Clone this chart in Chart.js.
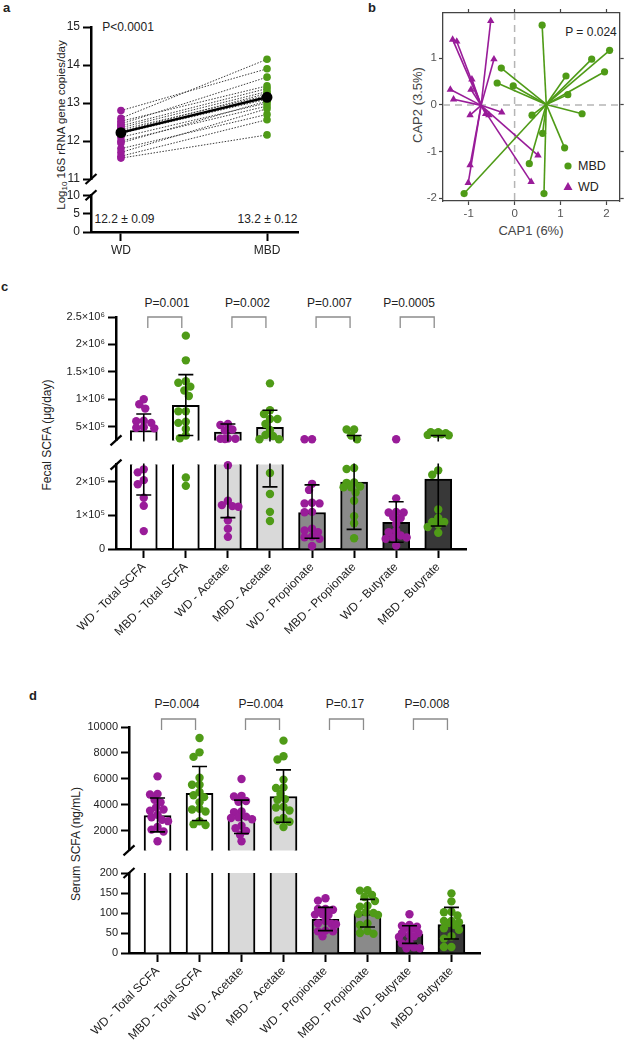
<!DOCTYPE html>
<html>
<head>
<meta charset="utf-8">
<script src="https://cdn.jsdelivr.net/npm/chart.js"></script>
<style>
  body { margin: 0; background: #fff; font-family: Arial, "Liberation Sans", Helvetica, sans-serif; color: #222; }
  #page { position: relative; width: 624px; height: 1049px; overflow: hidden; }
  .cv { position: absolute; }
  .t { position: absolute; white-space: nowrap; line-height: 1; font-size: 12px; transform: translate(-50%, -50%); }
  .l { transform: translate(0, -50%); }
  .rot { transform: translate(-50%, -50%) rotate(-90deg); }
  .pl { position: absolute; font-weight: bold; font-size: 13px; line-height: 1; }
  sub { font-size: 8px; vertical-align: -2px; }
</style>
</head>
<body>
<div id="page">
  <div class="pl" style="left:3px;top:1px">a</div>
  <div class="pl" style="left:368px;top:1px">b</div>
  <div class="pl" style="left:1px;top:280px">c</div>
  <div class="pl" style="left:29px;top:689px">d</div>

  <div class="t" style="left:128px;top:27px">P&lt;0.0001</div>
  <div class="t" style="left:124.5px;top:219px">12.2 ± 0.09</div>
  <div class="t" style="left:267.5px;top:219px">13.2 ± 0.12</div>
  <div class="t rot" style="left:62px;top:125px;font-size:11.5px">Log<sub>10</sub> 16S rRNA gene copies/day</div>

  <div class="t" style="left:591px;top:32px">P = 0.024</div>
  <div class="t l" style="left:578px;top:166px;font-size:12.5px">MBD</div>
  <div class="t l" style="left:578px;top:187px;font-size:12.5px">WD</div>
  <div class="t" style="left:531px;top:230px;font-size:13px;color:#444">CAP1 (6%)</div>
  <div class="t rot" style="left:417px;top:105px;font-size:13px;color:#444">CAP2 (3.5%)</div>

  <div class="t rot" style="left:47px;top:435px">Fecal SCFA (μg/day)</div>
  <div class="t" style="left:167px;top:303px">P=0.001</div>
  <div class="t" style="left:247.5px;top:303px">P=0.002</div>
  <div class="t" style="left:329.5px;top:303px">P=0.007</div>
  <div class="t" style="left:409px;top:303px">P=0.0005</div>

  <div class="t rot" style="left:76px;top:844px">Serum SCFA (ng/mL)</div>
  <div class="t" style="left:177px;top:704px">P=0.004</div>
  <div class="t" style="left:261px;top:704px">P=0.004</div>
  <div class="t" style="left:345px;top:704px">P=0.17</div>
  <div class="t" style="left:427px;top:704px">P=0.008</div>
</div>

<script>
  // ---- panel a: paired log10 16S copies ----
  const dietGroups = ['WD', 'MBD'];
  const wdLog16S = [12.8, 12.6, 12.52, 12.45, 12.4, 12.35, 12.3, 12.25, 12.2, 12.1, 12.0, 11.95, 11.8, 11.7, 11.6, 11.55];
  const mbdLog16S = [13.9, 14.15, 13.45, 13.68, 13.38, 13.3, 13.2, 13.25, 13.1, 13.0, 12.92, 13.05, 12.7, 12.85, 12.56, 12.16];
  const log16SMeans = [12.22, 13.15];
  const aUpperTicks = [11, 12, 13, 14, 15];
  const aLowerTicks = [0, 5, 10];

  // ---- panel b: CAP ordination ----
  const mbdCap1 = [0.6, 2.07, 1.68, 1.96, -0.29, -0.38, -0.03, 1.12, 1.16, 1.47, 0.38, 0.61, 1.09, 0.32, 0.64, -1.1];
  const mbdCap2 = [1.71, 1.17, 0.98, 0.71, 0.79, 0.47, 0.41, 0.62, 0.22, -0.19, -0.22, -0.61, -0.92, -1.26, -1.9, -1.9];
  const wdCap1 = [-0.52, -1.35, -1.26, -0.45, -0.93, -1.4, -1.33, -0.95, -0.97, -0.63, -0.28, -0.56, 0.51, 0.36, -0.97, -1.01];
  const wdCap2 = [1.8, 1.4, 1.36, 0.98, 0.55, 0.33, 0.12, 0.33, -0.22, -0.19, -0.16, -0.22, -1.08, -1.65, -1.29, -1.67];
  const mbdCentroid = [0.69, 0.01];
  const wdCentroid = [-0.73, -0.01];
  const capTicksX = [-1, 0, 1, 2];
  const capTicksY = [-2, -1, 0, 1];

  // ---- panels c/d: SCFA ----
  const scfaLabels = ['WD - Total SCFA', 'MBD - Total SCFA', 'WD - Acetate', 'MBD - Acetate',
                      'WD - Propionate', 'MBD - Propionate', 'WD - Butyrate', 'MBD - Butyrate'];

  const fecalMean = [4.3e5, 8.9e5, 4.0e5, 4.9e5, 1.08e5, 1.98e5, 0.79e5, 2.07e5];
  const fecalErrLow = [1.6e5, 3.4e5, 0.93e5, 1.84e5, 0.32e5, 0.58e5, 0.2e5, 0.68e5];
  const fecalErrHigh = [7.3e5, 1.45e6, 5.5e5, 8.0e5, 1.9e5, 3.4e5, 1.4e5, 3.4e5];
  const fecalWdTotal = [1.0e6, 9.1e5, 8.3e5, 6.1e5, 6.0e5, 5.7e5, 4.9e5, 4.8e5, 4.7e5, 2.36e5, 2.27e5, 2.04e5, 1.92e5, 1.52e5, 1.28e5, 0.53e5];
  const fecalMbdTotal = [2.16e6, 1.71e6, 1.33e6, 1.3e6, 1.23e6, 1.16e6, 1.06e6, 7.8e5, 7.8e5, 5.9e5, 5.7e5, 4.6e5, 3.4e5, 2.9e5, 2.12e5, 1.87e5];
  const fecalWdAcetate = [5.5e5, 5.3e5, 4.5e5, 4.3e5, 2.85e5, 2.8e5, 2.8e5, 2.75e5, 2.48e5, 1.43e5, 1.3e5, 1.25e5, 1.27e5, 0.85e5, 0.6e5, 0.36e5];
  const fecalMbdAcetate = [1.29e6, 8.0e5, 7.3e5, 6.4e5, 6.4e5, 5.5e5, 4.4e5, 3.5e5, 3.3e5, 2.7e5, 2.7e5, 2.25e5, 1.63e5, 1.1e5, 0.83e5];
  const fecalWdProp = [2.7e5, 2.7e5, 1.93e5, 1.75e5, 1.37e5, 1.35e5, 1.35e5, 1.09e5, 1.1e5, 0.6e5, 0.55e5, 0.5e5, 0.37e5, 0.35e5, 0.3e5, 0.09e5];
  const fecalMbdProp = [4.5e5, 4.5e5, 3.4e5, 2.7e5, 2.4e5, 2.37e5, 1.97e5, 1.96e5, 1.85e5, 1.83e5, 1.83e5, 1.67e5, 1.43e5, 0.97e5, 0.76e5, 0.32e5];
  const fecalWdBut = [2.7e5, 1.5e5, 1.08e5, 1.08e5, 1.1e5, 0.92e5, 0.95e5, 0.75e5, 0.54e5, 0.5e5, 0.4e5, 0.34e5, 0.34e5, 0.3e5, 0.1e5];
  const fecalMbdBut = [4.0e5, 3.8e5, 4.0e5, 3.7e5, 3.6e5, 3.5e5, 3.45e5, 2.33e5, 2.2e5, 1.17e5, 0.92e5, 0.8e5, 0.8e5, 0.72e5, 0.65e5, 0.48e5];
  const fecalUpperTicks = [5e5, 1e6, 1.5e6, 2e6, 2.5e6];
  const fecalUpperLabels = ['5×10⁵', '1×10⁶', '1.5×10⁶', '2×10⁶', '2.5×10⁶'];
  const fecalLowerTicks = [0, 1e5, 2e5];
  const fecalLowerLabels = ['0', '1×10⁵', '2×10⁵'];

  const serumMean = [3185, 4890, 3040, 4650, 84, 98, 47, 71];
  const serumErrLow = [1930, 2800, 1800, 2670, 56, 65, 24, 35];
  const serumErrHigh = [4530, 6960, 4370, 6700, 114, 134, 68, 114];
  const serumWdTotal = [6200, 4850, 4800, 4400, 4200, 3800, 3650, 3550, 3250, 3050, 2850, 2750, 2300, 2100, 1950, 1200];
  const serumMbdTotal = [9150, 8050, 7700, 6100, 5550, 5550, 5000, 4750, 4600, 4200, 3700, 3650, 3500, 2740, 2520, 2450];
  const serumWdAcetate = [6000, 4700, 4650, 4300, 4250, 3500, 3450, 3100, 3050, 3000, 2900, 2400, 2200, 2000, 1700, 1200];
  const serumMbdAcetate = [8950, 7750, 7500, 5950, 5350, 5300, 4870, 4450, 4400, 3850, 3800, 3570, 3000, 2800, 2700, 2300];
  const serumWdProp = [137, 131, 110, 110, 108, 97, 96, 95, 80, 74, 73, 72, 56, 54, 54, 42];
  const serumMbdProp = [157, 156, 145, 140, 130, 118, 116, 102, 100, 98, 95, 74, 70, 55, 50, 48];
  const serumWdBut = [97, 70, 68, 66, 63, 62, 50, 50, 45, 42, 40, 26, 24, 14, 12, 12];
  const serumMbdBut = [149, 129, 103, 102, 94, 80, 80, 77, 75, 70, 62, 58, 42, 36, 15, 15];
  const serumUpperTicks = [2000, 4000, 6000, 8000, 10000];
  const serumLowerTicks = [0, 50, 100, 150, 200];

  const pairs = [[0, 1], [2, 3], [4, 5], [6, 7]];
  const catTicks = [0, 1, 2, 3, 4, 5, 6, 7];

  const PURPLE = '#991c99';
  const GREEN = '#4f9b17';
  const BAR_FILL = ['#ffffff', '#ffffff', '#d9d9d9', '#d9d9d9', '#8a8a8a', '#8a8a8a', '#383838', '#383838'];

  Chart.defaults.font.family = 'Arial, "Liberation Sans", Helvetica, sans-serif';
  Chart.defaults.font.size = 11;
  Chart.defaults.color = '#222';
  Chart.defaults.animation = false;
  Chart.defaults.plugins.legend.display = false;
  Chart.defaults.plugins.tooltip.enabled = false;

  // whiskers from low to high, caps only where the end is inside this segment
  const errorBars = {
    id: 'errorBars',
    afterDatasetsDraw(chart, args, o) {
      if (!o.low) return;
      const { ctx, chartArea: a, scales: { x, y } } = chart;
      ctx.save();
      ctx.beginPath();
      ctx.rect(a.left - 20, a.top - 1, a.width + 40, a.height + 2);
      ctx.clip();
      ctx.strokeStyle = '#000';
      ctx.lineWidth = 1.6;
      o.low.forEach((lo, i) => {
        const hi = o.high[i];
        const px = x.getPixelForValue(i);
        ctx.beginPath();
        ctx.moveTo(px, y.getPixelForValue(lo));
        ctx.lineTo(px, y.getPixelForValue(hi));
        [lo, hi].forEach(v => {
          if (v >= y.min && v <= y.max) {
            const py = y.getPixelForValue(v);
            ctx.moveTo(px - 7.5, py);
            ctx.lineTo(px + 7.5, py);
          }
        });
        ctx.stroke();
      });
      ctx.restore();
    }
  };

  const axisBreak = {
    id: 'axisBreak',
    afterDraw(chart, args, o) {
      if (!o.side) return;
      const { ctx, chartArea: a } = chart;
      const y = o.side === 'top' ? a.top : a.bottom;
      ctx.save();
      ctx.strokeStyle = '#000';
      ctx.lineWidth = 2.2;
      ctx.beginPath();
      ctx.moveTo(a.left - 5.5, y + 5);
      ctx.lineTo(a.left + 5.5, y - 5);
      ctx.stroke();
      ctx.restore();
    }
  };

  const brackets = {
    id: 'brackets',
    afterDraw(chart, args, o) {
      if (!o.pairs) return;
      const { ctx, chartArea: a, scales: { x } } = chart;
      const top = a.top + o.dy;
      ctx.save();
      ctx.strokeStyle = '#8c8c8c';
      ctx.lineWidth = 1.3;
      o.pairs.forEach(([i, j]) => {
        const mid = (x.getPixelForValue(i) + x.getPixelForValue(j)) / 2;
        ctx.beginPath();
        ctx.moveTo(mid - 17, top + 11);
        ctx.lineTo(mid - 17, top);
        ctx.lineTo(mid + 17, top);
        ctx.lineTo(mid + 17, top + 11);
        ctx.stroke();
      });
      ctx.restore();
    }
  };

  const zeroLines = {
    id: 'zeroLines',
    beforeDatasetsDraw(chart, args, o) {
      if (!o.on) return;
      const { ctx, chartArea: a, scales: { x, y } } = chart;
      ctx.save();
      ctx.strokeStyle = '#b5b5b5';
      ctx.lineWidth = 1.5;
      ctx.setLineDash([7, 5]);
      ctx.beginPath();
      const px = x.getPixelForValue(0), py = y.getPixelForValue(0);
      ctx.moveTo(px, a.top); ctx.lineTo(px, a.bottom);
      ctx.moveTo(a.left, py); ctx.lineTo(a.right, py);
      ctx.stroke();
      ctx.restore();
    }
  };

  const capLegend = {
    id: 'capLegend',
    afterDraw(chart, args, o) {
      if (!o.on) return;
      const ctx = chart.ctx;
      ctx.save();
      ctx.fillStyle = GREEN;
      ctx.beginPath(); ctx.arc(238, 166, 3.6, 0, Math.PI * 2); ctx.fill();
      ctx.fillStyle = PURPLE;
      ctx.beginPath(); ctx.moveTo(238, 182); ctx.lineTo(242.5, 190); ctx.lineTo(233.5, 190); ctx.closePath(); ctx.fill();
      ctx.restore();
    }
  };

  Chart.register(errorBars, axisBreak, brackets, zeroLines, capLegend);

  function addCanvas(left, top, w, h) {
    const c = document.createElement('canvas');
    c.className = 'cv';
    c.style.left = left + 'px';
    c.style.top = top + 'px';
    c.width = w; c.height = h;
    c.style.width = w + 'px'; c.style.height = h + 'px';
    document.getElementById('page').appendChild(c);
    return c;
  }

  const fixedTicks = vals => s => { s.ticks = vals.map(v => ({ value: v })); };

  function leftAxis(min, max, vals, labels, width, fontSize) {
    return {
      type: 'linear', position: 'left', min, max,
      afterBuildTicks: fixedTicks(vals),
      afterFit: s => { s.width = width; },
      ticks: { callback: (v, i) => labels[i], color: '#222', font: { size: fontSize || 11 }, padding: 3 },
      grid: { drawOnChartArea: false, tickLength: 8, tickWidth: 2, tickColor: '#000' },
      border: { color: '#000', width: 2.5 }
    };
  }

  function bottomAxis(min, max, vals, labels, height, rotate) {
    return {
      type: 'linear', position: 'bottom', min, max, offset: false,
      afterBuildTicks: fixedTicks(vals),
      afterFit: s => { s.height = height; },
      ticks: { callback: (v, i) => labels[i], autoSkip: false, minRotation: rotate, maxRotation: rotate,
               color: '#222', font: { size: 12 }, padding: 2 },
      grid: { drawOnChartArea: false, offset: false, tickLength: 9, tickWidth: 2, tickColor: '#000' },
      border: { color: '#000', width: 2.5 }
    };
  }

  const hiddenX = (min, max) => ({ type: 'linear', display: false, min, max, offset: false, grid: { offset: false } });

  // spread overlapping dots sideways (within a narrow band), using the chart's own scales
  function swarm(chart) {
    const xs = chart.scales.x, ys = chart.scales.y;
    const unit = xs.getPixelForValue(1) - xs.getPixelForValue(0);
    const MAXOFF = 11, D2 = 42;
    chart.data.datasets.forEach(ds => {
      if (!ds.swarm) return;
      const placed = {};
      ds.data.map(p => ({ p, py: ys.getPixelForValue(p.y) }))
        .sort((a, b) => a.py - b.py)
        .forEach(o => {
          const list = placed[o.p.cat] || (placed[o.p.cat] = []);
          let best = 0, bestGap = -1;
          for (let k = 0; k < 40; k++) {
            const cand = (k % 2 ? -1 : 1) * Math.ceil(k / 2) * 1.5;
            if (Math.abs(cand) > MAXOFF) break;
            const gap = list.reduce((m, q) => Math.min(m, (q.dx - cand) ** 2 + (q.py - o.py) ** 2), Infinity);
            if (gap >= D2) { best = cand; bestGap = gap; break; }
            if (gap > bestGap) { best = cand; bestGap = gap; }
          }
          list.push({ dx: best, py: o.py });
          o.p.x = o.p.cat + best / unit;
        });
    });
    chart.update('none');
  }

  function barPanel(cfg) {
    const inRange = v => cfg.upper ? v >= cfg.split : v < cfg.split;
    const pts = parity => cfg.points.flatMap((arr, c) =>
      c % 2 === parity ? arr.filter(inRange).map(v => ({ x: c, y: v, cat: c })) : []);
    const chart = new Chart(addCanvas(cfg.left, cfg.top, cfg.w, cfg.h), {
      type: 'bar',
      data: {
        datasets: [
          { type: 'bar', data: cfg.means.map((m, i) => ({ x: i, y: m })), backgroundColor: BAR_FILL,
            borderColor: '#000', borderWidth: 2, borderSkipped: 'start', barThickness: 27, clip: 0, order: 3 },
          { type: 'scatter', data: pts(0), backgroundColor: PURPLE, borderWidth: 0, pointRadius: 4.2,
            clip: false, order: 1, swarm: true },
          { type: 'scatter', data: pts(1), backgroundColor: GREEN, borderWidth: 0, pointRadius: 4.2,
            clip: false, order: 1, swarm: true }
        ]
      },
      options: {
        responsive: false,
        layout: { padding: cfg.pad },
        scales: { x: cfg.x, y: cfg.y },
        plugins: {
          errorBars: { low: cfg.low, high: cfg.high },
          axisBreak: { side: cfg.upper ? 'bottom' : 'top' },
          brackets: cfg.brackets || false
        }
      }
    });
    swarm(chart);
  }

  // ---------- panel a ----------
  new Chart(addCanvas(0, 10, 320, 180), {
    type: 'scatter',
    data: {
      datasets: [
        ...wdLog16S.map((v, i) => ({
          data: [{ x: 0, y: v }, { x: 1, y: mbdLog16S[i] }], showLine: true,
          borderColor: '#3a3a3a', borderWidth: 1, borderDash: [1.5, 1.5], pointRadius: 0, order: 3
        })),
        { data: wdLog16S.map(v => ({ x: 0, y: v })), backgroundColor: PURPLE, borderWidth: 0, pointRadius: 3.8, order: 2 },
        { data: mbdLog16S.map(v => ({ x: 1, y: v })), backgroundColor: GREEN, borderWidth: 0, pointRadius: 3.8, order: 2 },
        { data: log16SMeans.map((v, i) => ({ x: i, y: v })), showLine: true, borderColor: '#000', borderWidth: 2.5,
          backgroundColor: '#000', pointRadius: 4.2, order: 1 }
      ]
    },
    options: {
      responsive: false,
      layout: { padding: { left: 0, top: 17, right: 22, bottom: 11 } },
      scales: {
        x: hiddenX(-0.205, 1.212),
        y: leftAxis(11, 15, aUpperTicks, aUpperTicks.map(String), 91, 12)
      },
      plugins: { axisBreak: { side: 'bottom' } }
    }
  });

  new Chart(addCanvas(0, 185, 320, 80), {
    type: 'scatter',
    data: { datasets: [{ data: [] }] },
    options: {
      responsive: false,
      layout: { padding: { left: 0, top: 10, right: 22, bottom: 0 } },
      scales: {
        x: bottomAxis(-0.205, 1.212, [0, 1], dietGroups, 33, 0),
        y: leftAxis(0, 10, aLowerTicks, aLowerTicks.map(String), 91, 12)
      },
      plugins: { axisBreak: { side: 'top' } }
    }
  });

  // ---------- panel b ----------
  const spokes = [];
  mbdCap1.forEach((x, i) => spokes.push({
    data: [{ x: mbdCentroid[0], y: mbdCentroid[1] }, { x, y: mbdCap2[i] }],
    showLine: true, borderColor: GREEN, borderWidth: 1.6, pointRadius: 0
  }));
  wdCap1.forEach((x, i) => spokes.push({
    data: [{ x: wdCentroid[0], y: wdCentroid[1] }, { x, y: wdCap2[i] }],
    showLine: true, borderColor: PURPLE, borderWidth: 1.6, pointRadius: 0
  }));

  const capAxis = (pos, min, max, vals, size, labels) => ({
    type: 'linear', position: pos, min, max, display: true,
    afterBuildTicks: fixedTicks(vals),
    afterFit: s => { if (pos === 'left' || pos === 'right') s.width = size; else s.height = size; },
    ticks: { display: labels, color: '#555', font: { size: 11.5 }, padding: 2, callback: v => String(v) },
    grid: { drawOnChartArea: false, tickLength: 4, tickWidth: 1.2, tickColor: '#444' },
    border: { color: '#444', width: 1.3 }
  });

  new Chart(addCanvas(330, 0, 294, 225), {
    type: 'scatter',
    data: {
      datasets: [
        ...spokes,
        { data: mbdCap1.map((x, i) => ({ x, y: mbdCap2[i] })), backgroundColor: GREEN, borderWidth: 0, pointRadius: 3.6 },
        { data: wdCap1.map((x, i) => ({ x, y: wdCap2[i] })), pointStyle: 'triangle', backgroundColor: PURPLE,
          borderColor: PURPLE, borderWidth: 0, pointRadius: 4.3 }
      ]
    },
    options: {
      responsive: false,
      layout: { padding: { left: 88, top: 8, right: 0, bottom: 2 } },
      scales: {
        x: capAxis('bottom', -1.56, 2.29, capTicksX, 22, true),
        x2: capAxis('top', -1.56, 2.29, capTicksX, 5, false),
        y: capAxis('left', -2.06, 1.97, capTicksY, 25, true),
        y2: capAxis('right', -2.06, 1.97, capTicksY, 3, false)
      },
      plugins: { zeroLines: { on: true }, capLegend: { on: true } }
    }
  });

  // ---------- panel c ----------
  const fecalPoints = [fecalWdTotal, fecalMbdTotal, fecalWdAcetate, fecalMbdAcetate, fecalWdProp, fecalMbdProp, fecalWdBut, fecalMbdBut];
  barPanel({
    left: 0, top: 300, w: 480, h: 150, pad: { left: 0, top: 17, right: 14, bottom: 5 },
    upper: true, split: 2.5e5, points: fecalPoints, means: fecalMean, low: fecalErrLow, high: fecalErrHigh,
    x: hiddenX(-0.66, 7.66),
    y: leftAxis(2.5e5, 2.5e6, fecalUpperTicks, fecalUpperLabels, 116),
    brackets: { pairs, dy: 0 }
  });
  barPanel({
    left: 0, top: 455, w: 480, h: 190, pad: { left: 0, top: 8, right: 14, bottom: 0 },
    upper: false, split: 2.5e5, points: fecalPoints, means: fecalMean, low: fecalErrLow, high: fecalErrHigh,
    x: bottomAxis(-0.66, 7.66, catTicks, scfaLabels, 96, 45),
    y: leftAxis(0, 2.5e5, fecalLowerTicks, fecalLowerLabels, 116)
  });

  // ---------- panel d ----------
  const serumPoints = [serumWdTotal, serumMbdTotal, serumWdAcetate, serumMbdAcetate, serumWdProp, serumMbdProp, serumWdBut, serumMbdBut];
  barPanel({
    left: 0, top: 712, w: 500, h: 148, pad: { left: 0, top: 15, right: 20, bottom: 5 },
    upper: true, split: 300, points: serumPoints, means: serumMean, low: serumErrLow, high: serumErrHigh,
    x: hiddenX(-0.68, 7.68),
    y: leftAxis(500, 10000, serumUpperTicks, serumUpperTicks.map(String), 129),
    brackets: { pairs, dy: -8 }
  });
  barPanel({
    left: 0, top: 862, w: 500, h: 187, pad: { left: 0, top: 11, right: 20, bottom: 0 },
    upper: false, split: 300, points: serumPoints, means: serumMean, low: serumErrLow, high: serumErrHigh,
    x: bottomAxis(-0.68, 7.68, catTicks, scfaLabels, 96, 45),
    y: leftAxis(0, 200, serumLowerTicks, serumLowerTicks.map(String), 129)
  });
</script>
</body>
</html>
